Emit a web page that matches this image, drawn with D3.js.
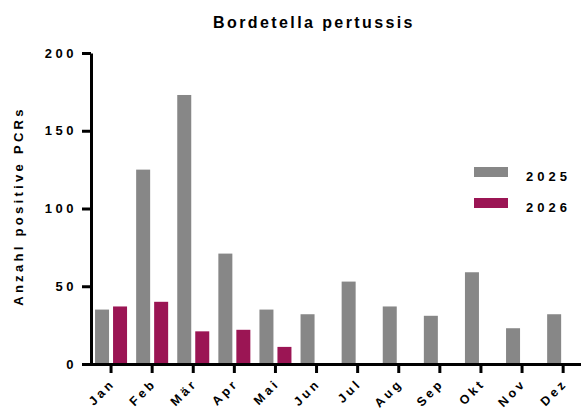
<!DOCTYPE html>
<html>
<head>
<meta charset="utf-8">
<script src="https://cdn.jsdelivr.net/npm/d3@7"></script>
<style>
  body { margin: 0; background: #fff; }
  svg text { font-family: "Liberation Sans", Arial, sans-serif; font-weight: bold; fill: #000; }
</style>
</head>
<body>
<div id="chart"></div>
<script>
var months = ["Jan", "Feb", "Mär", "Apr", "Mai", "Jun", "Jul", "Aug", "Sep", "Okt", "Nov", "Dez"];
var values2025 = [35, 125, 173, 71, 35, 32, 53, 37, 31, 59, 23, 32];
var values2026 = [37, 40, 21, 22, 11, null, null, null, null, null, null, null];
var yTicks = [0, 50, 100, 150, 200];
var seriesNames = ["2025", "2026"];
var seriesColors = ["#878787", "#9b1554"];

var width = 581, height = 411;

var svg = d3.select("#chart").append("svg")
    .attr("width", width)
    .attr("height", height);

var x = d3.scaleBand().domain(months).range([90.5, 583.7]);
var y = d3.scaleLinear().domain([0, 200]).range([364, 53]);

// title
svg.append("text")
    .attr("x", 314)
    .attr("y", 28)
    .attr("text-anchor", "middle")
    .style("font-size", "16px")
    .style("letter-spacing", "2.4px")
    .text("Bordetella pertussis");

// bars
var barW = 14, gap = 2;
svg.append("g").selectAll("rect.s2025")
    .data(months)
    .enter().append("rect")
    .attr("x", function (d) { return x(d) + x.bandwidth() / 2 - gap - barW; })
    .attr("y", function (d, i) { return y(values2025[i]); })
    .attr("width", barW)
    .attr("height", function (d, i) { return y(0) - y(values2025[i]); })
    .attr("fill", seriesColors[0]);

svg.append("g").selectAll("rect.s2026")
    .data(months.filter(function (d, i) { return values2026[i] != null; }))
    .enter().append("rect")
    .attr("x", function (d) { return x(d) + x.bandwidth() / 2 + gap; })
    .attr("y", function (d, i) { return y(values2026[i]); })
    .attr("width", barW)
    .attr("height", function (d, i) { return y(0) - y(values2026[i]); })
    .attr("fill", seriesColors[1]);

// y axis
var yAxis = svg.append("g")
    .attr("transform", "translate(91,0)")
    .call(d3.axisLeft(y).tickValues(yTicks).tickSize(9).tickSizeOuter(0).tickPadding(5));
yAxis.select(".domain").attr("stroke", "#000").attr("stroke-width", 3);
yAxis.selectAll(".tick line").attr("stroke", "#000").attr("stroke-width", 3);
yAxis.selectAll(".tick text")
    .style("font-size", "13px")
    .style("letter-spacing", "3.5px")
    .style("font-family", null);

// x axis
var xAxis = svg.append("g")
    .attr("transform", "translate(0,364)")
    .call(d3.axisBottom(x).tickSize(9).tickSizeOuter(0));
xAxis.select(".domain").attr("stroke", "#000").attr("stroke-width", 3);
xAxis.selectAll(".tick line").attr("stroke", "#000").attr("stroke-width", 3);
xAxis.selectAll(".tick text")
    .attr("y", 0)
    .attr("dy", 0)
    .attr("text-anchor", "end")
    .attr("transform", "translate(5,20) rotate(-45)")
    .style("font-size", "12.5px")
    .style("letter-spacing", "3.3px")
    .style("font-family", null);

// y label
svg.append("text")
    .attr("transform", "translate(23,206) rotate(-90)")
    .attr("text-anchor", "middle")
    .style("font-size", "13px")
    .style("letter-spacing", "3.3px")
    .text("Anzahl positive PCRs");

// legend
var legend = svg.append("g").selectAll("g")
    .data(seriesNames)
    .enter().append("g")
    .attr("transform", function (d, i) { return "translate(474," + (167 + i * 31) + ")"; });
legend.append("rect")
    .attr("width", 34)
    .attr("height", 10)
    .attr("fill", function (d, i) { return seriesColors[i]; });
legend.append("text")
    .attr("x", 52)
    .attr("y", 14)
    .style("font-size", "13px")
    .style("letter-spacing", "4px")
    .text(function (d) { return d; });
</script>
</body>
</html>
